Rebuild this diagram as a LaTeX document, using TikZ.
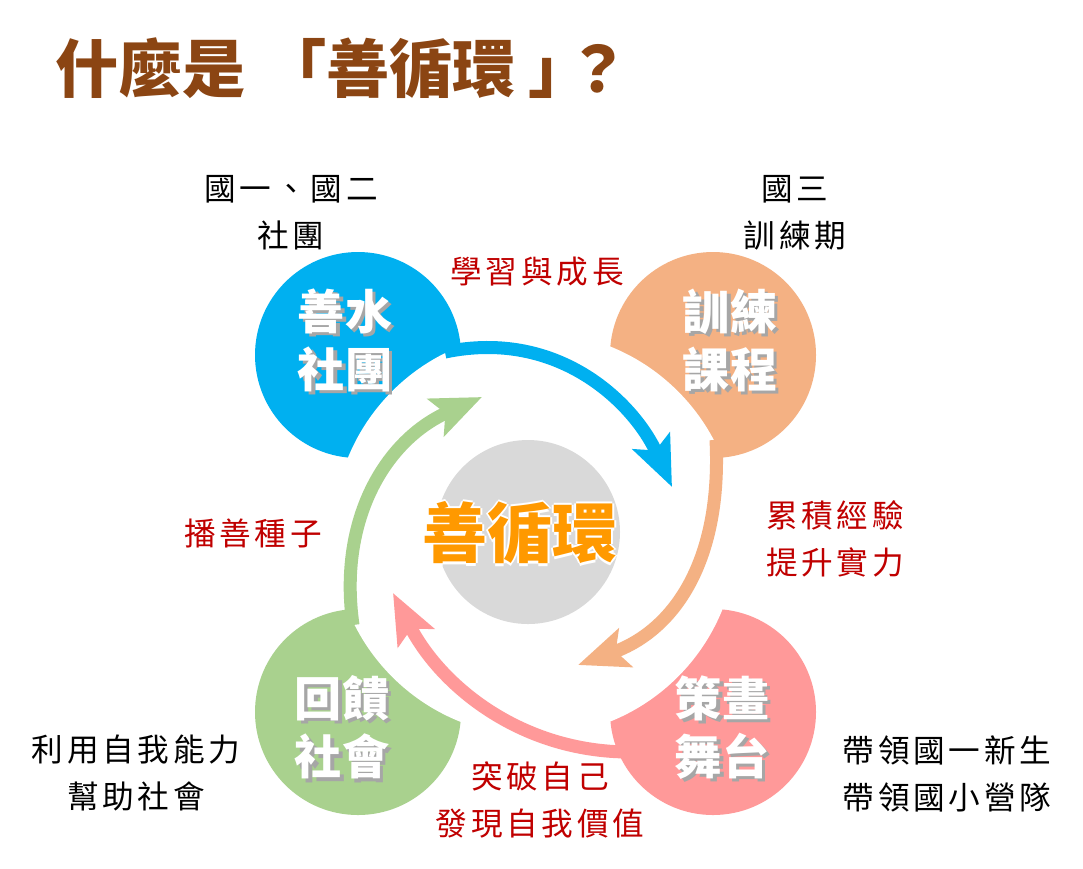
\documentclass[tikz,border=0pt]{standalone}
\usepackage{fontspec}
\usepackage{xcolor}
\usetikzlibrary{arrows.meta}
\setmainfont{Noto Sans CJK TC}
\newfontfamily\notefont[LetterSpace=12]{Noto Sans CJK TC}
\definecolor{titlebrown}{HTML}{8B4513}
\definecolor{waterblue}{HTML}{00B0F0}
\definecolor{trainorange}{HTML}{F4B183}
\definecolor{stagepink}{HTML}{FF9999}
\definecolor{givegreen}{HTML}{A9D18E}
\definecolor{cyclegray}{HTML}{D9D9D9}
\definecolor{cycleorange}{HTML}{FF9900}
\definecolor{notered}{HTML}{C00000}
\newcommand{\shadowed}[1]{\makebox[0pt][l]{\hspace{0.9pt}\raisebox{-0.9pt}{\color{black!35}#1}}#1}
\newcommand{\outlined}[1]{%
  \makebox[0pt][l]{\hspace{-0.7pt}\color{white}#1}%
  \makebox[0pt][l]{\hspace{0.7pt}\color{white}#1}%
  \makebox[0pt][l]{\raisebox{0.7pt}{\color{white}#1}}%
  \makebox[0pt][l]{\raisebox{-0.7pt}{\color{white}#1}}%
  #1}

\begin{document}
\begin{tikzpicture}[
    note/.style={font=\notefont\fontsize{9}{13.4}\selectfont, align=center},
    hint/.style={note, text=notered},
    circlabel/.style={text=white, font=\fontsize{13.4}{16.6}\selectfont\bfseries, align=center},
    band/.style={line width=0.13cm, -{Stealth[length=0.5cm, width=0.4cm, inset=0.1cm]}}
]
    \fill[white] (0,0) rectangle (10.83,-8.68);
    \useasboundingbox (0,0) rectangle (10.83,-8.68);

    % Title
    \node[anchor=west, inner sep=0, text=titlebrown, font=\fontsize{18}{18}\selectfont\bfseries] (title) at (0.55,-0.68) {什麼是\hspace{5pt}「善循環\hspace{3.4pt}」\hspace{-7pt}？};

    % Four circles
    \fill[waterblue] (3.58,-3.55) circle (1.03);
    \fill[trainorange] (7.13,-3.55) circle (1.03);
    \fill[stagepink] (7.13,-7.12) circle (1.03);
    \fill[givegreen] (3.58,-7.12) circle (1.03);

    % White core and gray hub
    \fill[white] (5.35,-5.34) circle (2.02);
    \fill[cyclegray] (5.28,-5.32) circle (0.92);

    % Arrows round the cycle
    \draw[band, waterblue] (4.45,-3.52) .. controls (5.60,-3.28) and (6.35,-4.05) .. (6.72,-4.87);
    \draw[band, trainorange] (7.16,-4.40) .. controls (7.22,-5.60) and (6.75,-6.30) .. (5.78,-6.65);
    \draw[band, stagepink] (6.30,-7.52) .. controls (5.20,-7.52) and (4.40,-6.85) .. (3.93,-5.93);
    \draw[band, givegreen] (3.53,-6.25) .. controls (3.38,-5.20) and (3.85,-4.40) .. (4.82,-3.97);

    % Circle labels
    \node[circlabel] (water) at (3.45,-3.42) {\shadowed{善水}\\\shadowed{社團}};
    \node[circlabel] (train) at (7.30,-3.42) {\shadowed{訓練}\\\shadowed{課程}};
    \node[circlabel] (stage) at (7.22,-7.29) {\shadowed{策畫}\\\shadowed{舞台}};
    \node[circlabel] (give) at (3.42,-7.29) {\shadowed{回饋}\\\shadowed{社會}};
    \node[text=cycleorange, font=\fontsize{18.5}{20}\selectfont\bfseries] (cycle) at (5.20,-5.33) {\outlined{善循環}};

    % Notes
    \node[note] (club) at (2.91,-2.13) {國一、國二\\社團};
    \node[note] (drill) at (7.95,-2.13) {國三\\訓練期};
    \node[note] (help) at (1.36,-7.73) {利用自我能力\\幫助社會};
    \node[note] (lead) at (9.47,-7.74) {帶領國一新生\\帶領國小營隊};
    \node[hint] (grow) at (5.37,-2.72) {學習與成長};
    \node[hint] (gain) at (8.35,-5.39) {累積經驗\\提升實力};
    \node[hint] (sow) at (2.53,-5.33) {播善種子};
    \node[hint] (break) at (5.40,-8.00) {突破自己\\發現自我價值};
\end{tikzpicture}
\end{document}
